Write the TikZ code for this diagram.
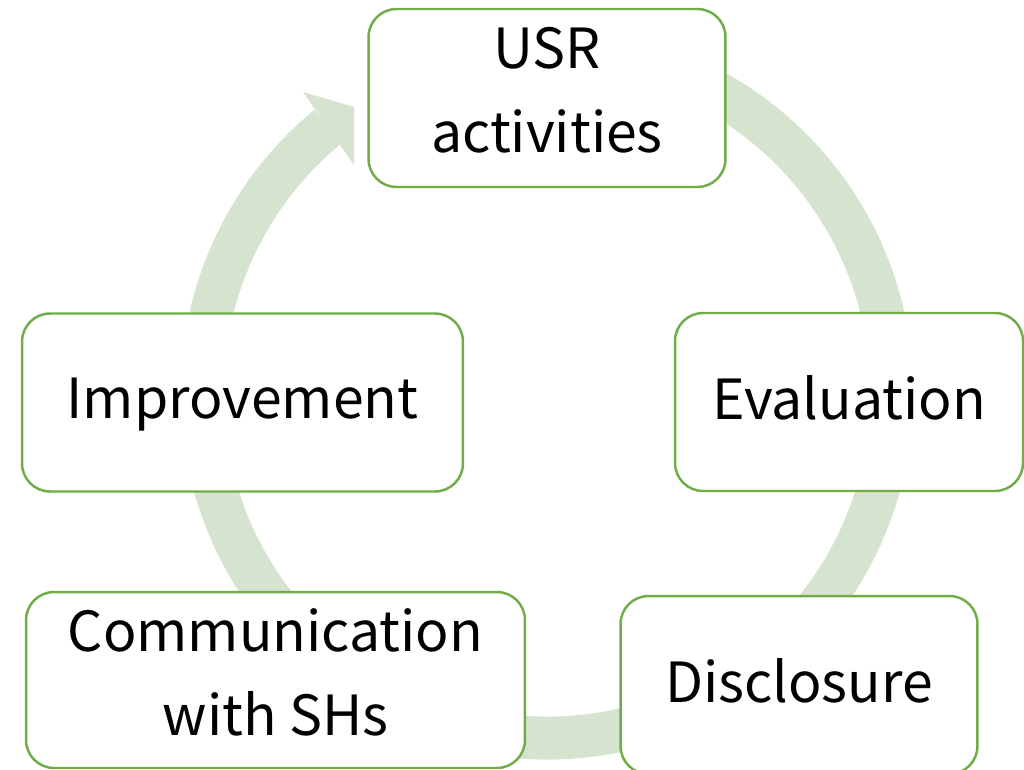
\documentclass[tikz,border=0pt]{standalone}
\usepackage{fontspec}
\setmainfont{Noto Sans CJK JP}
\usepackage{xcolor}
\usetikzlibrary{positioning,calc}

\definecolor{ringgreen}{RGB}{214,227,207}
\definecolor{boxgreen}{RGB}{112,173,71}

\tikzset{
  stagebox/.style={draw=boxgreen, line width=1.4pt, fill=white, rounded corners=0.56cm,
    align=center, font=\fontsize{31.5}{48}\selectfont, inner sep=0pt, text depth=5pt},
  twolines/.style={text depth=9pt},
}

\begin{document}
\begin{tikzpicture}[x=0.02cm, y=-0.02cm]
    \useasboundingbox (0,0) rectangle (1024,770);
    % cycle ring behind the boxes
    \coordinate (hub) at (547,393);
    \draw[ringgreen, line width=0.86cm] ($(hub)+(-70:345)$) arc[start angle=-70, end angle=230.6, radius=345];
    \fill[ringgreen] (303,92) -- (354,107) -- (354,165) -- cycle;

    % stages
    \node[stagebox, twolines, minimum width=7.14cm, minimum height=3.56cm] (usr) at (547,98) {USR\\activities};
    \node[stagebox, minimum width=6.96cm, minimum height=3.56cm] (eval) at (849,402) {Evaluation};
    \node[stagebox, minimum width=7.14cm, minimum height=3.56cm] (disc) at (799,685) {Disclosure};
    \node[stagebox, twolines, minimum width=9.98cm, minimum height=3.52cm] (comm) at (275.5,680) {Communication\\with SHs};
    \node[stagebox, minimum width=8.82cm, minimum height=3.56cm] (impr) at (242.5,402.5) {Improvement};
\end{tikzpicture}
\end{document}
